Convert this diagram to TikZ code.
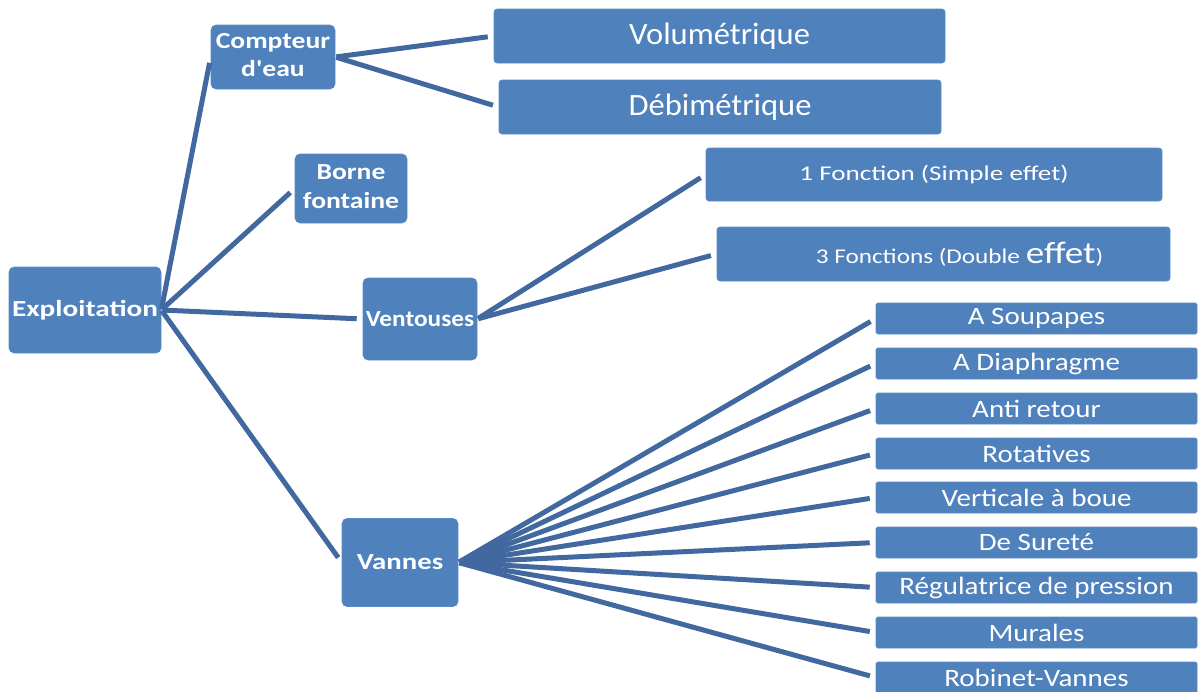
\documentclass[tikz,border=0pt]{standalone}
\usepackage{fontspec}
\setmainfont{Carlito}[Ligatures=TeXOff]
\usepackage{graphicx}
\definecolor{boxblue}{HTML}{4F81BD}
\definecolor{boxedge}{HTML}{5B8BC4}
\definecolor{linkblue}{HTML}{41699F}
\newcommand{\sx}[2]{\scalebox{#1}[1]{#2}}
\newcommand{\fs}[1]{\fontsize{#1}{1.22\dimexpr#1pt\relax}\selectfont}
\tikzset{
  box/.style={fill=boxblue, draw=boxedge, line width=0.6pt, rounded corners=5pt, text=white, inner sep=0pt, align=center},
  leaf/.style={fill=boxblue, draw=boxedge, line width=0.6pt, rounded corners=1.5pt, text=white, inner sep=0pt, minimum width=321pt, minimum height=31pt},
  link/.style={draw=linkblue, line width=5pt, shorten >=6pt, shorten <=1pt}
}
\begin{document}
\begin{tikzpicture}[x=1pt,y=-1pt]
\clip (0,0) rectangle (1201,691);
\fill[white] (0,0) rectangle (1201,691);
% nodes
\node[box, minimum width=152pt, minimum height=86pt] (expl) at (85,310) {\sx{1.27}{\fs{23}\bfseries Exploitation}};
\node[box, minimum width=124pt, minimum height=64pt] (comp) at (273,57) {\sx{1.2}{\fs{23}\bfseries\begin{tabular}{@{}c@{}}Compteur\\[0pt]d'eau\end{tabular}}};
\node[box, rounded corners=3pt, minimum width=451pt, minimum height=54pt] (vol) at (719.5,36) {\sx{1.05}{\fs{31}Volumétrique}};
\node[box, rounded corners=3pt, minimum width=442pt, minimum height=54pt] (debi) at (720,107) {\sx{1.05}{\fs{31}Débimétrique}};
\node[box, minimum width=112pt, minimum height=69pt] (borne) at (351,188.5) {\sx{1.2}{\fs{23}\bfseries\begin{tabular}{@{}c@{}}Borne\\[1pt]fontaine\end{tabular}}};
\node[box, minimum width=114pt, minimum height=82pt] (vent) at (420,319) {\sx{1.1}{\fs{23}\bfseries Ventouses}};
\node[box, rounded corners=3pt, minimum width=456pt, minimum height=53pt] (f1) at (934,174.5) {\sx{1.29}{\fs{21}1 Fonction (Simple effet)}};
\node[box, rounded corners=3pt, minimum width=453pt, minimum height=54pt] (f3) at (943.5,254) {\hspace*{32pt}\sx{1.2}{\fs{21}3 Fonctions (Double {\fs{31}effet})}};
\node[box, minimum width=116pt, minimum height=88pt] (vannes) at (400,562.5) {\sx{1.25}{\fs{23}\bfseries Vannes}};
\node[leaf] (r1) at (1036.5,318.5) {\sx{1.16}{\fs{25}A Soupapes}};
\node[leaf] (r2) at (1036.5,363.5) {\sx{1.16}{\fs{25}A Diaphragme}};
\node[leaf] (r3) at (1036.5,408.5) {\sx{1.16}{\fs{25}Anti retour}};
\node[leaf] (r4) at (1036.5,453.5) {\sx{1.16}{\fs{25}Rotatives}};
\node[leaf] (r5) at (1036.5,497.5) {\sx{1.16}{\fs{25}Verticale à boue}};
\node[leaf] (r6) at (1036.5,542.5) {\sx{1.16}{\fs{25}De Sureté}};
\node[leaf] (r7) at (1036.5,587.5) {\sx{1.16}{\fs{25}Régulatrice de pression}};
\node[leaf] (r8) at (1036.5,632.5) {\sx{1.16}{\fs{25}Murales}};
\node[leaf] (r9) at (1036.5,677.5) {\sx{1.16}{\fs{25}Robinet-Vannes}};
% links
\foreach \t in {comp,borne,vent,vannes} \draw[link] (expl.east) -- (\t.west);
\foreach \t in {vol,debi} \draw[link] (comp.east) -- (\t.west);
\foreach \t in {f1,f3} \draw[link] (vent.east) -- (\t.west);
\foreach \t in {r1,r2,r3,r4,r5,r6,r7,r8,r9} \draw[link] (vannes.east) -- (\t.west);
\end{tikzpicture}
\end{document}
